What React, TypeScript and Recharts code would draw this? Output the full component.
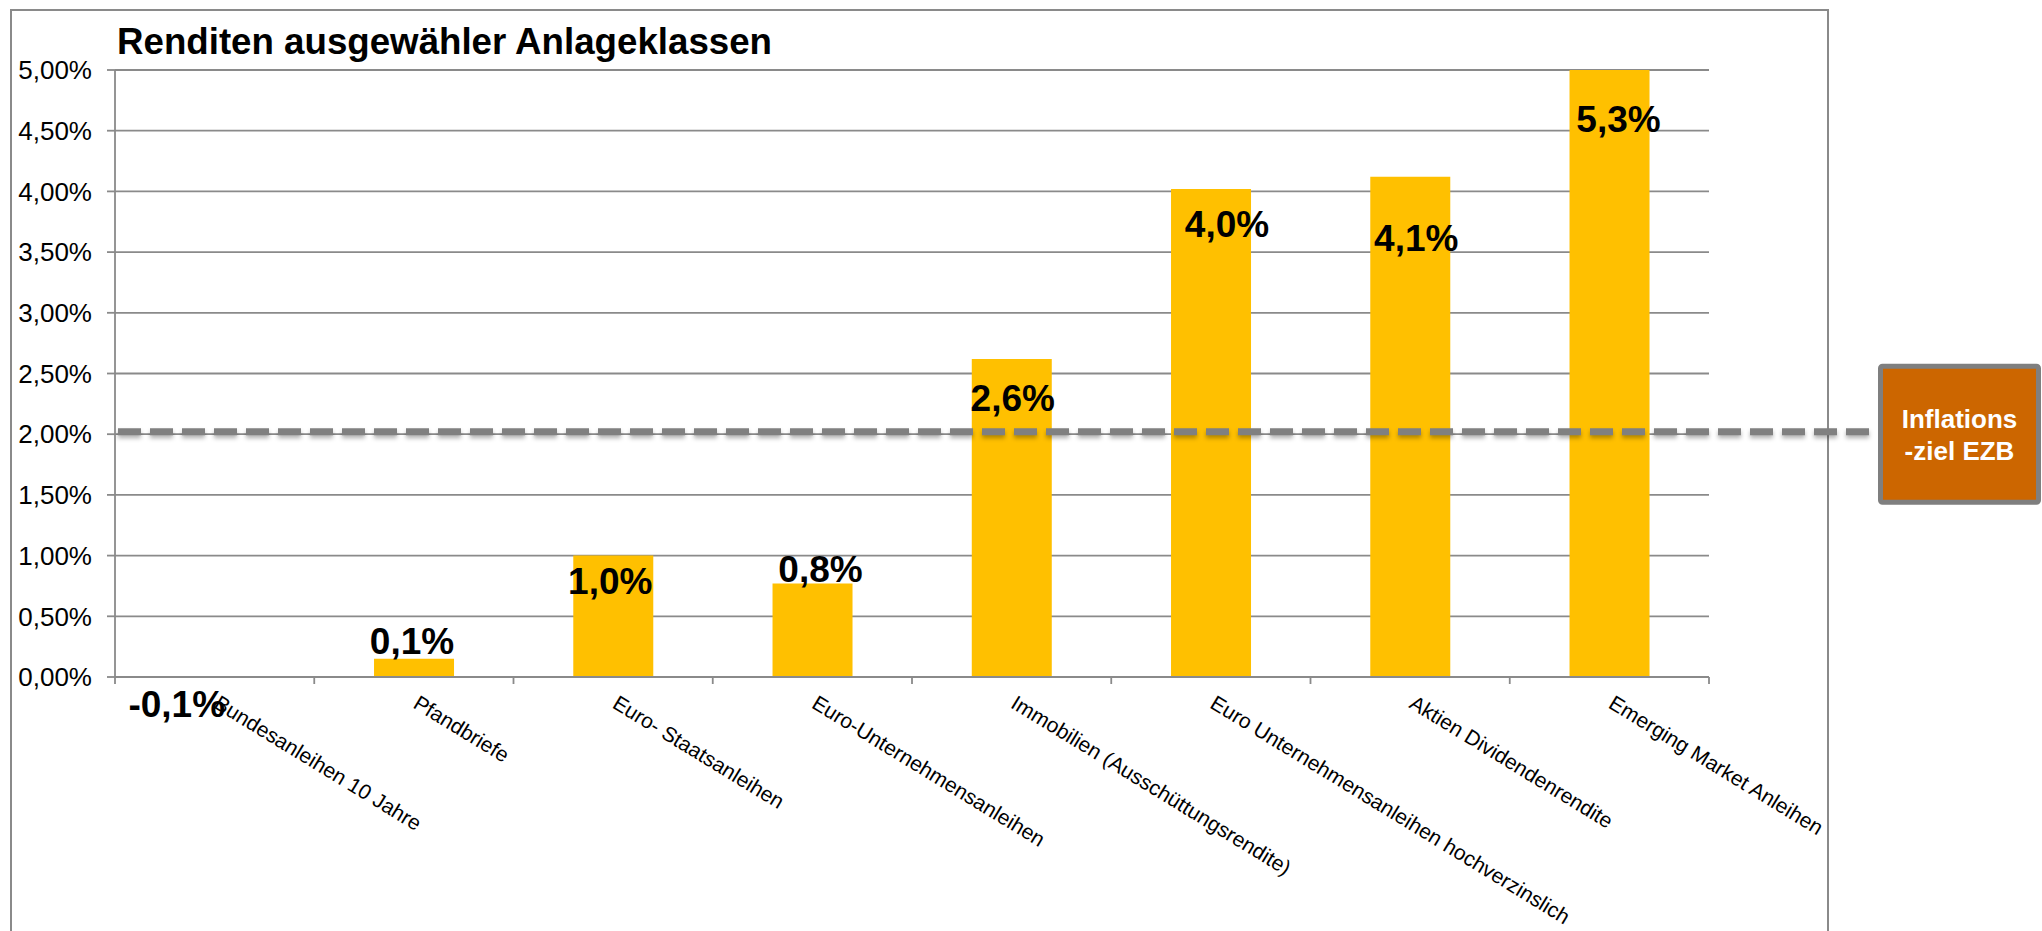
import React from 'react';
import { BarChart, Bar, XAxis, YAxis, CartesianGrid, ReferenceLine, LabelList } from 'recharts';

// ---------- data ----------
const categories = [
  'Bundesanleihen 10 Jahre',
  'Pfandbriefe',
  'Euro- Staatsanleihen',
  'Euro-Unternehmensanleihen',
  'Immobilien (Ausschüttungsrendite)',
  'Euro Unternehmensanleihen hochverzinslich',
  'Aktien Dividendenrendite',
  'Emerging Market Anleihen',
];
const returnsPct = [-0.01, 0.15, 1.0, 0.77, 2.62, 4.02, 4.12, 5.3];
const valueLabels = ['-0,1%', '0,1%', '1,0%', '0,8%', '2,6%', '4,0%', '4,1%', '5,3%'];
const yTicks = [0, 0.5, 1, 1.5, 2, 2.5, 3, 3.5, 4, 4.5, 5];
const inflationTarget = 2.02;
const inflationText = ['Inflations', '-ziel EZB'];
const chartTitle = 'Renditen ausgewähler Anlageklassen';

// ---------- layout / style ----------
const W = 2042;
const H = 931;
const PLOT_LEFT = 115;
const PLOT_RIGHT = 1709;
const PLOT_TOP = 70;
const PLOT_BOTTOM = 677;
const X_AXIS_H = 30;
const Y_AXIS_W = 100;
const BAND = (PLOT_RIGHT - PLOT_LEFT) / categories.length;
const FONT = "'Liberation Sans', Arial, Helvetica, sans-serif";
const GRID = '#8a8a8a';
const BAR_COLOR = '#FFC000';
const BOX_X = 1878;
const LABEL_ANGLE = 31.5;
// label offsets: [dx from bar centre, baseline dy from bar top]
const labelOffsets: [number, number][] = [
  [-38, 40], [-2, -5], [-3, 38], [8, -2], [1, 52], [16, 48], [6, 74], [9, 62],
];

const data = categories.map((name, i) => ({ name, value: returnsPct[i], label: valueLabels[i] }));

const fmtPct = (v: number) => v.toFixed(2).replace('.', ',') + '%';

const CategoryTick = (props: any) => {
  const { x, y, payload, index } = props;
  const tx = x - 2;
  const ty = y + 30;
  const last = index === categories.length - 1;
  return (
    <g>
      <line x1={x - BAND / 2} x2={x - BAND / 2} y1={y} y2={y + 7} stroke={GRID} strokeWidth={1.8} />
      {last && <line x1={x + BAND / 2} x2={x + BAND / 2} y1={y} y2={y + 7} stroke={GRID} strokeWidth={1.8} />}
      <text
        x={tx}
        y={ty}
        transform={`rotate(${LABEL_ANGLE}, ${tx}, ${ty})`}
        textAnchor="start"
        fontSize={21}
        fontFamily={FONT}
        fill="#000"
      >
        {payload.value}
      </text>
    </g>
  );
};

const ValueLabel = (props: any) => {
  const { x, y, width, height, value } = props;
  let index = props.index;
  if (index === undefined || index === null) index = valueLabels.indexOf(value);
  const top = Math.max(Math.min(Number(y), Number(y) + Number(height)), PLOT_TOP);
  const [dx, dy] = labelOffsets[index] || [0, 0];
  return (
    <text
      x={Number(x) + Number(width) / 2 + dx}
      y={top + dy}
      textAnchor="middle"
      fontSize={37}
      fontWeight="bold"
      fontFamily={FONT}
      fill="#000"
    >
      {value}
    </text>
  );
};

const InflationMarker = (props: any) => {
  const { x1, y1 } = props;
  const y = Number(y1);
  const cx = BOX_X + 81.5;
  return (
    <g>
      <line
        x1={Number(x1) + 3}
        y1={y}
        x2={BOX_X - 5}
        y2={y}
        stroke="#808080"
        strokeWidth={7}
        strokeDasharray="23 9"
        style={{ filter: 'drop-shadow(0px 3px 2px rgba(0,0,0,0.3))' }}
      />
      <rect
        x={BOX_X + 2.5}
        y={y - 65.5}
        width={158}
        height={136}
        rx={2}
        fill="#CC6600"
        stroke="#7f7f7f"
        strokeWidth={5}
      />
      <text x={cx} y={y - 4} textAnchor="middle" fontSize={26} fontWeight="bold" fontFamily={FONT} fill="#fff">
        {inflationText[0]}
      </text>
      <text x={cx} y={y + 28} textAnchor="middle" fontSize={26} fontWeight="bold" fontFamily={FONT} fill="#fff">
        {inflationText[1]}
      </text>
    </g>
  );
};

export default function App() {
  return (
    <div style={{ position: 'absolute', left: 0, top: 0, width: W, height: H, overflow: 'hidden', background: '#fff' }}>
      <svg style={{ position: 'absolute', left: 0, top: 0 }} width={W} height={H}>
        <rect x={11} y={10} width={1817} height={H} fill="none" stroke={GRID} strokeWidth={2} />
        <text
          x={117}
          y={54}
          fontFamily={FONT}
          fontWeight="bold"
          fontSize={36}
          textLength={655}
          lengthAdjust="spacingAndGlyphs"
          fill="#000"
        >
          {chartTitle}
        </text>
      </svg>
      <div style={{ position: 'absolute', left: 0, top: 0 }}>
        <BarChart
          width={W}
          height={H}
          data={data}
          barCategoryGap="30%"
          margin={{
            top: PLOT_TOP,
            right: W - PLOT_RIGHT,
            bottom: H - PLOT_BOTTOM - X_AXIS_H,
            left: PLOT_LEFT - Y_AXIS_W,
          }}
        >
          <CartesianGrid horizontal vertical={false} stroke={GRID} strokeWidth={1.8} />
          <XAxis
            dataKey="name"
            height={X_AXIS_H}
            interval={0}
            tickLine={false}
            tickSize={0}
            tickMargin={0}
            axisLine={{ stroke: GRID, strokeWidth: 1.8 }}
            tick={(p: any) => <CategoryTick {...p} />}
          />
          <YAxis
            width={Y_AXIS_W}
            type="number"
            domain={[0, 5]}
            ticks={yTicks}
            allowDataOverflow
            interval={0}
            tickFormatter={fmtPct}
            tickSize={8}
            tickMargin={15}
            axisLine={{ stroke: GRID, strokeWidth: 1.8 }}
            tickLine={{ stroke: GRID, strokeWidth: 1.8 }}
            tick={{ fontSize: 26, fill: '#000', fontFamily: FONT }}
          />
          <Bar dataKey="value" fill={BAR_COLOR} isAnimationActive={false}>
            <LabelList dataKey="label" content={(p: any) => <ValueLabel {...p} />} />
          </Bar>
          <ReferenceLine y={inflationTarget} shape={(p: any) => <InflationMarker {...p} />} />
        </BarChart>
      </div>
    </div>
  );
}
